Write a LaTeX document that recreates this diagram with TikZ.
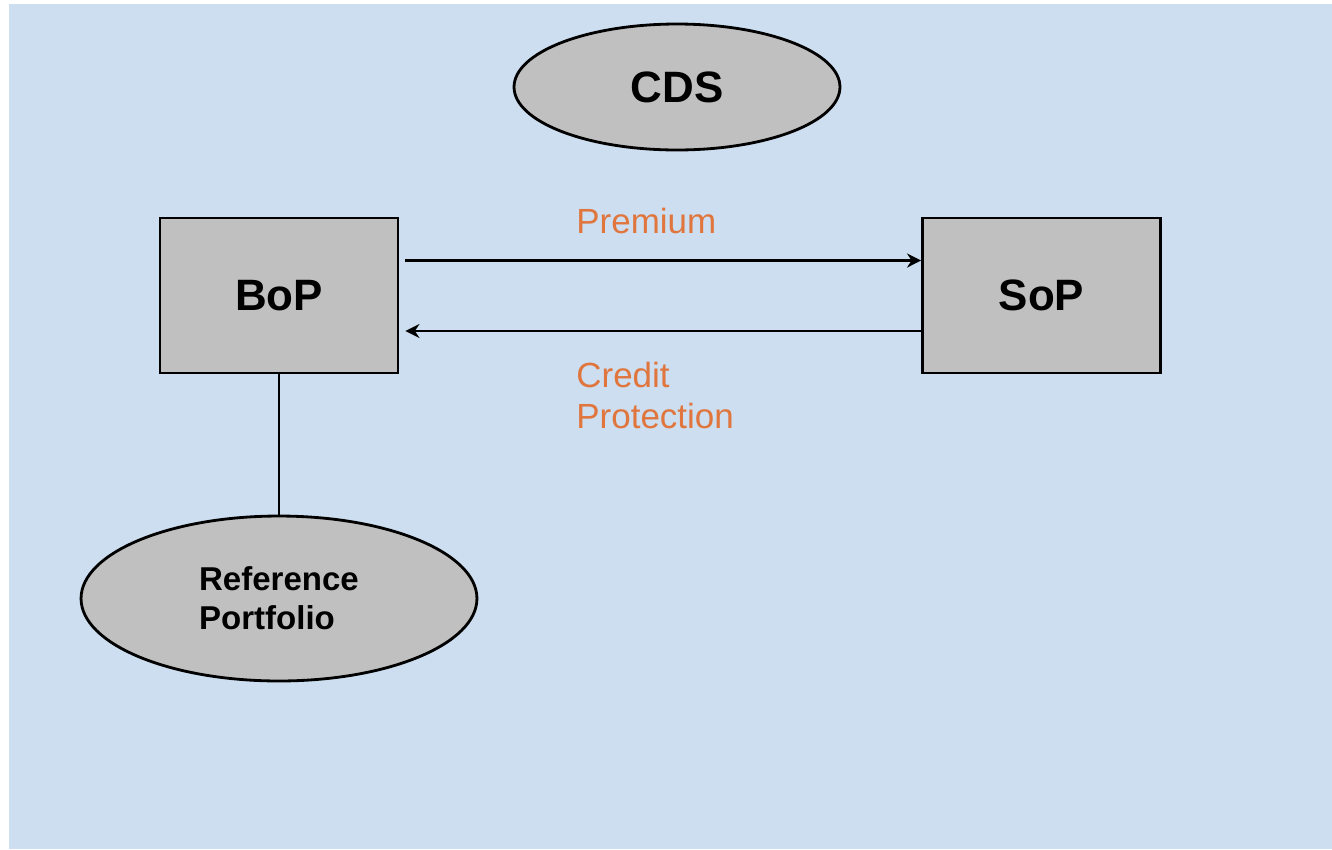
\documentclass[tikz,border=0pt]{standalone}
\usepackage{fontspec}
\setmainfont{Liberation Sans}
\usepackage{tikz}
\usetikzlibrary{shapes.geometric,arrows.meta}

\definecolor{bgblue}{RGB}{204,222,239}
\definecolor{boxgray}{RGB}{192,192,192}
\definecolor{labelorange}{RGB}{224,118,62}

\begin{document}
\begin{tikzpicture}[x=0.02cm,y=-0.02cm,line width=1.6pt,
 party/.style={rectangle,draw=black,fill=boxgray,minimum width=4.76cm,minimum height=3.1cm,font=\fontsize{25}{30}\selectfont\bfseries},
 blob/.style={ellipse,draw=black,fill=boxgray,inner sep=0pt},
 flow/.style={text=labelorange,inner sep=0pt,font=\fontsize{19.9}{23.3}\selectfont,align=left}]
\fill[white] (0,0) rectangle (1332,849);
\fill[bgblue] (9,4) rectangle (1332,849);
\useasboundingbox (0,0) rectangle (1332,849);

\node[blob,minimum width=6.52cm,minimum height=2.52cm,font=\fontsize{25}{30}\selectfont\bfseries] (cds) at (677,87) {CDS};
\node[party] (bop) at (279,295.5) {BoP};
\node[party] (sop) at (1041.5,295.5) {SoP};
\node[blob,minimum width=7.92cm,minimum height=3.3cm,align=left,font=\fontsize{18.8}{22.2}\selectfont\bfseries] (ref) at (279,598.5) {Reference\\Portfolio};

\node[flow,anchor=base west] (prem) at (575,233) {Premium};
\node[flow,anchor=base west] (prot) at (575,428) {Credit\\Protection};

\draw[-{Stealth[length=8pt,width=8pt]},shorten <=0.12cm] ([yshift=0.7cm]bop.east) -- ([yshift=0.7cm]sop.west);
\draw[-{Stealth[length=8pt,width=8pt]},shorten >=0.12cm] ([yshift=-0.71cm]sop.west) -- ([yshift=-0.71cm]bop.east);
\draw (bop) -- (ref);
\end{tikzpicture}
\end{document}
